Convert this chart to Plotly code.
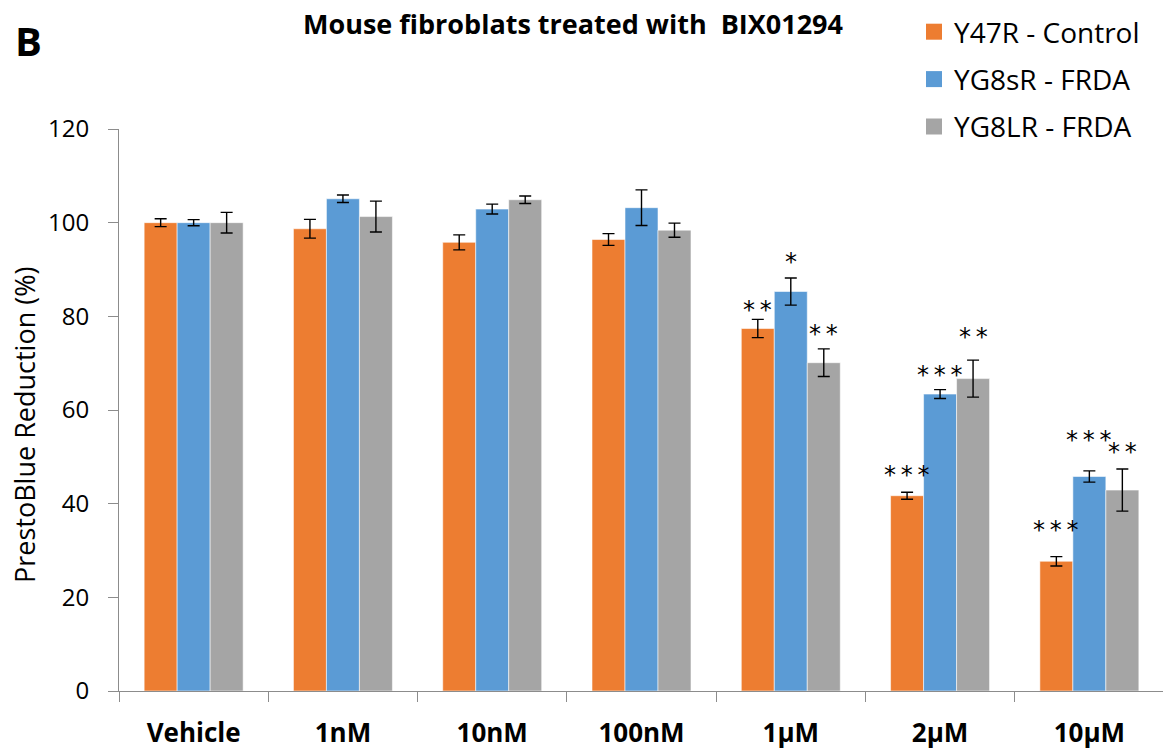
import plotly.graph_objects as go

categories = ["Vehicle", "1nM", "10nM", "100nM", "1µM", "2µM", "10µM"]
series_names = ["Y47R - Control", "YG8sR - FRDA", "YG8LR - FRDA"]

y47r = [100, 98.7, 95.8, 96.4, 77.4, 41.7, 27.7]
y47r_err = [0.85, 2.0, 1.6, 1.25, 1.95, 0.75, 1.0]
yg8sr = [100, 105.1, 102.9, 103.2, 85.3, 63.4, 45.8]
yg8sr_err = [0.65, 0.8, 1.05, 3.8, 2.9, 0.95, 1.2]
yg8lr = [100, 101.3, 104.9, 98.4, 70.1, 66.7, 42.9]
yg8lr_err = [2.2, 3.3, 0.8, 1.5, 2.95, 3.95, 4.5]

# significance labels and the height (in % units) at which each label is centred
y47r_sig = [None, None, None, None, "**", "***", "***"]
y47r_sig_y = [None, None, None, None, 82.4, 47.2, 35.5]
yg8sr_sig = [None, None, None, None, "*", "***", "***"]
yg8sr_sig_y = [None, None, None, None, 92.7, 68.6, 54.6]
yg8lr_sig = [None, None, None, None, "**", "**", "**"]
yg8lr_sig_y = [None, None, None, None, 77.3, 76.6, 52.2]

y_ticks = [0, 20, 40, 60, 80, 100, 120]

colors = ["#ED7D31", "#5B9BD5", "#A5A5A5"]
values = [y47r, yg8sr, yg8lr]
errors = [y47r_err, yg8sr_err, yg8lr_err]
sigs = [y47r_sig, yg8sr_sig, yg8lr_sig]
sig_ys = [y47r_sig_y, yg8sr_sig_y, yg8lr_sig_y]

# the page body adds an 8px offset, so the figure is 8px smaller in each direction
W, H = 1163, 741
ML, MR, MT, MB = 111, 7, 121, 58
PW, PH = W - ML - MR, H - MT - MB
GAP = 0.337
bar_px = PW / len(categories) * (1 - GAP) / len(series_names)

fig = go.Figure()
for name, vals, errs, col in zip(series_names, values, errors, colors):
    fig.add_trace(go.Bar(
        x=categories, y=vals, name=name, showlegend=False,
        marker=dict(color=col, line=dict(color="rgba(255,255,255,0.55)", width=1)),
        error_y=dict(type="data", array=errs, visible=True, color="black",
                     thickness=1.4, width=6),
    ))
# legend entries (square swatches)
for name, col in zip(series_names, colors):
    fig.add_trace(go.Scatter(
        x=[None], y=[None], mode="markers", name=name, legendgroup=name,
        marker=dict(symbol="square", size=17, color=col),
    ))

annotations = []
STAR_SHIFT = 1.1  # glyph sits above text-box centre
for i, (s, sy) in enumerate(zip(sigs, sig_ys)):
    for cat, txt, yv in zip(categories, s, sy):
        if txt is None:
            continue
        annotations.append(dict(
            x=cat, y=yv - STAR_SHIFT, xref="x", yref="y",
            text="\u2009".join(txt), showarrow=False,
            xshift=(i - 1) * bar_px, yanchor="middle", xanchor="center",
            font=dict(family="DejaVu Sans", size=24, color="black"),
        ))

annotations.append(dict(text="<b>B</b>", x=(5 - ML) / PW, y=(H - MB - 32) / PH,
                        xref="paper", yref="paper", xanchor="left", yanchor="middle",
                        showarrow=False,
                        font=dict(size=40, family="Open Sans", color="black")))
annotations.append(dict(text="PrestoBlue Reduction (%)", textangle=-90,
                        x=(16 - ML) / PW, y=(H - MB - 417) / PH,
                        xref="paper", yref="paper", xanchor="center", yanchor="middle",
                        showarrow=False,
                        font=dict(size=27, family="Open Sans", color="black")))

fig.update_layout(
    width=W, height=H,
    barmode="group", bargap=GAP, bargroupgap=0,
    plot_bgcolor="white", paper_bgcolor="white",
    margin=dict(l=ML, r=MR, t=MT, b=MB, autoexpand=False),
    font=dict(family="Open Sans", color="black"),
    title=dict(text="<b>Mouse fibroblats treated with\u00a0\u00a0BIX01294</b>",
               x=565 / W, xref="container", xanchor="center",
               y=1 - 17 / H, yref="container", yanchor="middle",
               font=dict(size=27, family="Open Sans", color="black")),
    legend=dict(x=(906 - ML) / PW, xref="paper", y=(H - MB + 1) / PH, yref="paper",
                xanchor="left", yanchor="top", font=dict(size=28),
                tracegroupgap=8, bgcolor="rgba(0,0,0,0)"),
    annotations=annotations,
)

fig.update_xaxes(
    type="category", showline=True, linecolor="#8c8c8c", linewidth=1,
    ticks="outside", tickson="boundaries", ticklen=10, tickcolor="#8c8c8c",
    tickfont=dict(size=26, family="Open Sans", color="black"),
    tickprefix="<b>", ticksuffix="</b>", ticklabelstandoff=19,
    showgrid=False, zeroline=False, automargin=False,
)
fig.update_yaxes(
    range=[0, 120], tickvals=y_ticks, showline=True, linecolor="#8c8c8c", linewidth=1,
    ticks="outside", ticklen=10, tickcolor="#8c8c8c",
    tickfont=dict(size=24, family="Open Sans", color="black"), ticklabelstandoff=14,
    showgrid=False, zeroline=False, automargin=False,
)

fig.write_html("out.html")
